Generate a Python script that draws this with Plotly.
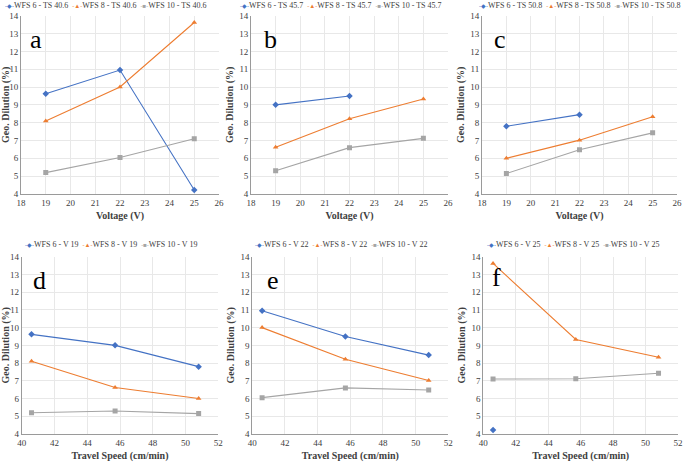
import plotly.graph_objects as go

W, H = 685, 462

# ---- data ----
voltage = [19, 22, 25]
speed = [40.6, 45.7, 50.8]

a_wfs6 = [9.62, 10.95, 4.22]
a_wfs8 = [8.10, 10.00, 13.62]
a_wfs10 = [5.20, 6.05, 7.10]

b_wfs6 = [9.00, 9.50, None]
b_wfs8 = [6.62, 8.22, 9.33]
b_wfs10 = [5.30, 6.60, 7.12]

c_wfs6 = [7.80, 8.45, None]
c_wfs8 = [6.00, 7.02, 8.33]
c_wfs10 = [5.15, 6.48, 7.43]

d_wfs6 = [9.62, 9.00, 7.80]
d_wfs8 = [8.10, 6.62, 6.00]
d_wfs10 = [5.20, 5.30, 5.15]

e_wfs6 = [10.95, 9.50, 8.45]
e_wfs8 = [10.00, 8.22, 7.02]
e_wfs10 = [6.05, 6.60, 6.48]

f_wfs6 = [4.22, None, None]
f_wfs8 = [13.62, 9.33, 8.33]
f_wfs10 = [7.10, 7.12, 7.43]

panel_letters = ["a", "b", "c", "d", "e", "f"]
top_suffix = ["TS 40.6", "TS 45.7", "TS 50.8"]
bot_suffix = ["V 19", "V 22", "V 25"]
series_names = ["WFS 6", "WFS 8", "WFS 10"]

colors = ["#4472C4", "#ED7D31", "#A5A5A5"]
symbols = ["diamond", "triangle-up", "square"]
glyphs = ["◆", "▲", "■"]

FONT = "Liberation Serif, Times New Roman, serif"
TXT = "#404040"

def px(x):
    return x / W

def py(y):
    return 1 - y / H

# plot-area pixel boxes (left, right, top, bottom)
boxes = [
    (21, 219, 15.7, 194),
    (251, 448, 15.7, 194),
    (482, 677, 15.7, 194),
    (21.7, 218.3, 256.7, 434),
    (252.3, 448.3, 256.7, 434),
    (483.3, 678, 256.7, 434),
]

panels = [
    (voltage, [a_wfs6, a_wfs8, a_wfs10], top_suffix[0]),
    (voltage, [b_wfs6, b_wfs8, b_wfs10], top_suffix[1]),
    (voltage, [c_wfs6, c_wfs8, c_wfs10], top_suffix[2]),
    (speed, [d_wfs6, d_wfs8, d_wfs10], bot_suffix[0]),
    (speed, [e_wfs6, e_wfs8, e_wfs10], bot_suffix[1]),
    (speed, [f_wfs6, f_wfs8, f_wfs10], bot_suffix[2]),
]

fig = go.Figure()
layout = dict(
    width=W, height=H,
    margin=dict(l=0, r=0, t=0, b=0, autoexpand=False),
    paper_bgcolor="white", plot_bgcolor="white",
    showlegend=False,
    font=dict(family=FONT, size=9, color=TXT),
)
annotations = []

letter_pos = [(36, 40), (270, 40), (500, 40), (39, 280), (273, 280), (496, 277)]
legend_pos = [(106, 5), (341, 5), (580, 5), (111, 244), (341, 244), (573, 244)]

for i, ((xs, ys_list, suffix), box) in enumerate(zip(panels, boxes)):
    k = "" if i == 0 else str(i + 1)
    xa, ya = "x" + k, "y" + k
    for j, ys in enumerate(ys_list):
        fig.add_trace(go.Scatter(
            x=xs, y=ys, xaxis=xa, yaxis=ya, mode="lines+markers",
            name=f"{series_names[j]} - {suffix}",
            line=dict(color=colors[j], width=1.1),
            marker=dict(symbol=symbols[j], size=5, color=colors[j]),
            connectgaps=False,
        ))
    l, r, t, b = box
    top_row = i < 3
    layout["xaxis" + k] = dict(
        domain=[px(l), px(r)], anchor=ya, automargin=False,
        range=[18, 26] if top_row else [40, 52],
        dtick=1 if top_row else 2,
        showgrid=True, gridcolor="#e8e8e8", gridwidth=1,
        showline=True, linecolor="#9a9a9a", linewidth=1,
        zeroline=False, ticks="", tickfont=dict(family=FONT, size=9, color=TXT),
        title=dict(text="<b>Voltage (V)</b>" if top_row else "<b>Travel Speed (cm/min)</b>",
                   font=dict(family=FONT, size=10, color=TXT), standoff=5 if top_row else 8),
    )
    layout["yaxis" + k] = dict(
        domain=[py(b), py(t)], anchor=xa, automargin=False,
        range=[4, 14], dtick=1,
        showgrid=True, gridcolor="#e8e8e8", gridwidth=1,
        showline=True, linecolor="#9a9a9a", linewidth=1,
        zeroline=False, ticks="", tickfont=dict(family=FONT, size=9, color=TXT),
        title=dict(text="<b>Geo. Dilution (%)</b>",
                   font=dict(family=FONT, size=10, color=TXT), standoff=3),
    )
    # panel letter
    lx, ly = letter_pos[i]
    annotations.append(dict(
        text=panel_letters[i], x=px(lx), y=py(ly), xref="paper", yref="paper",
        showarrow=False, xanchor="center", yanchor="middle",
        font=dict(family=FONT, size=26, color="black"),
    ))
    # legend (annotation-based, Excel style)
    parts = []
    for j in range(3):
        parts.append(
            f"<span style='color:{colors[j]};font-size:6px'>-{glyphs[j]}-</span>{series_names[j]} - {suffix}"
        )
    gx, gy = legend_pos[i]
    annotations.append(dict(
        text="  ".join(parts), x=px(gx), y=py(gy), xref="paper", yref="paper",
        showarrow=False, xanchor="center", yanchor="middle",
        font=dict(family=FONT, size=8, color=TXT),
    ))

layout["annotations"] = annotations
fig.update_layout(**layout)
fig.write_html("out.html", config={"displayModeBar": False},
               post_script="document.body.style.margin='0px';")
